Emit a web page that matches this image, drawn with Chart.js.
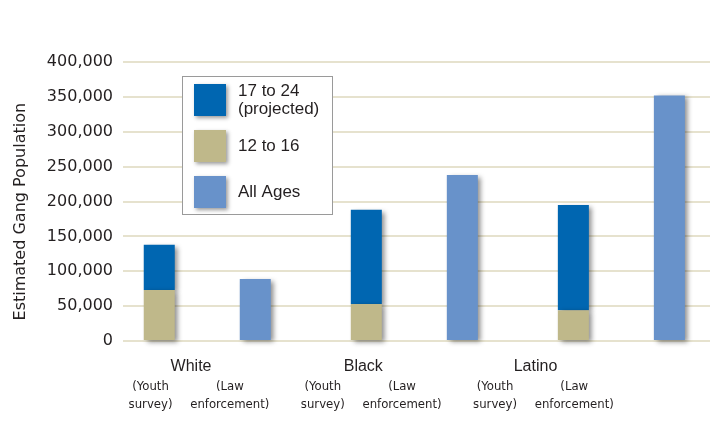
<!DOCTYPE html>
<html>
<head>
<meta charset="utf-8">
<style>
  html, body { margin: 0; padding: 0; background: #fff; }
  canvas { display: block; }
</style>
</head>
<body>
<canvas id="grafico" width="727" height="429"></canvas>
<script src="https://cdn.jsdelivr.net/npm/chart.js@4.4.1/dist/chart.umd.min.js"></script>
<script>
const groups = ["White", "Black", "Latino"]
const sources = [["(Youth", "survey)"], ["(Law", "enforcement)"]]
const ages12to16 = [73000, 53000, 44000]
const ages17to24 = [65000, 135000, 151000]
const allAges = [89000, 238000, 352000]
const yTicks = [0, 50000, 100000, 150000, 200000, 250000, 300000, 350000, 400000]

const textColor = "#231F20"
const graph = document.getElementById("grafico")

const points = (values) => values.map((v, i) => ({ x: i, y: v }))
const groupTicks = (scale) => { scale.ticks = groups.map((g, i) => ({ value: i })) }

// the sub labels in the original sit a bit off the bars, so they get their own axis
const sourceTicks = (scale) => {
  scale.ticks = []
  groups.forEach((g, i) => {
    scale.ticks.push({ value: i - 0.235 })
    scale.ticks.push({ value: i + 0.225 })
  })
}

const shadow = {
  id: "shadow",
  beforeDatasetsDraw(chart) {
    const ctx = chart.ctx
    ctx.save()
    ctx.shadowColor = "rgba(0,0,0,0.45)"
    ctx.shadowBlur = 5
    ctx.shadowOffsetX = 3
    ctx.shadowOffsetY = 2
  },
  afterDatasetsDraw(chart) {
    chart.ctx.restore()
  }
}

const legendBox = {
  id: "legendBox",
  afterDraw(chart) {
    const { ctx, chartArea } = chart
    const x0 = chartArea.left + 59
    const y0 = chartArea.top + 14
    ctx.save()
    ctx.fillStyle = "#fff"
    ctx.fillRect(x0, y0, 151, 139)
    ctx.strokeStyle = "#9A9A9A"
    ctx.lineWidth = 1
    ctx.strokeRect(x0 + 0.5, y0 + 0.5, 150, 138)

    const order = [1, 0, 2]
    order.forEach((dsIndex, row) => {
      const ds = chart.data.datasets[dsIndex]
      const top = y0 + 8 + row * 46
      ctx.save()
      ctx.shadowColor = "rgba(0,0,0,0.4)"
      ctx.shadowBlur = 4
      ctx.shadowOffsetX = 2
      ctx.shadowOffsetY = 2
      ctx.fillStyle = ds.backgroundColor
      ctx.fillRect(x0 + 12, top, 32, 32)
      ctx.restore()

      const lines = ds.label.split("\n")
      ctx.fillStyle = textColor
      ctx.font = "17px 'Liberation Sans', Arial, sans-serif"
      ctx.textBaseline = "middle"
      ctx.textAlign = "left"
      lines.forEach((line, k) => {
        const y = top + 16 + (k - (lines.length - 1) / 2) * 18
        ctx.fillText(line, x0 + 56, y)
      })
    })
    ctx.restore()
  }
}

const barStyle = {
  borderWidth: 0,
  categoryPercentage: 0.9275,
  barPercentage: 0.323,
  clip: 8,
  xAxisID: "x"
}

new Chart(graph, {
  type: "bar",
  data: {
    datasets: [
      { ...barStyle, label: "12 to 16", data: points(ages12to16), backgroundColor: "#BFB88A", stack: "youth" },
      { ...barStyle, label: "17 to 24\n(projected)", data: points(ages17to24), backgroundColor: "#0066B1", stack: "youth" },
      { ...barStyle, label: "All Ages", data: points(allAges), backgroundColor: "#6892CA", stack: "law" }
    ]
  },
  options: {
    responsive: false,
    animation: false,
    devicePixelRatio: 1,
    layout: { padding: { top: 62, right: 17, bottom: 0, left: 0 } },
    plugins: {
      legend: { display: false },
      tooltip: { enabled: false }
    },
    scales: {
      x: {
        type: "linear",
        display: false,
        offset: false,
        bounds: "data",
        min: -0.407,
        max: 2.428,
        afterBuildTicks: groupTicks
      },
      groupAxis: {
        type: "linear",
        position: "bottom",
        offset: false,
        bounds: "data",
        min: -0.395,
        max: 3.013,
        grid: { display: false, drawTicks: false },
        border: { display: false },
        afterBuildTicks: groupTicks,
        afterFit: (s) => { s.height = 37 },
        ticks: {
          padding: 16,
          autoSkip: false,
          maxRotation: 0,
          color: textColor,
          font: { family: "'Liberation Sans', Arial, sans-serif", size: 16 },
          callback: (v, i) => groups[i]
        }
      },
      sourceAxis: {
        type: "linear",
        position: "bottom",
        offset: false,
        bounds: "data",
        min: -0.395,
        max: 3.013,
        grid: { display: false, drawTicks: false },
        border: { display: false },
        afterBuildTicks: sourceTicks,
        afterFit: (s) => { s.height = 51 },
        ticks: {
          padding: 0,
          autoSkip: false,
          maxRotation: 0,
          color: textColor,
          font: { family: "'DejaVu Sans Condensed', sans-serif", size: 13, lineHeight: 1.35 },
          callback: (v, i) => sources[i % 2]
        }
      },
      y: {
        min: 0,
        max: 400000,
        afterBuildTicks: (s) => { s.ticks = yTicks.map((v) => ({ value: v })) },
        afterFit: (s) => { s.width = 123 },
        grid: { color: "#E6E2CE", lineWidth: 2, drawTicks: false },
        border: { display: false },
        ticks: {
          padding: 10,
          color: textColor,
          font: { family: "'DejaVu Sans', sans-serif", size: 16 },
          callback: (v) => Intl.NumberFormat("en-US").format(v)
        },
        title: {
          display: true,
          // trailing spaces push the centred title down a little, like the original
          text: "Estimated Gang Population    ",
          color: textColor,
          padding: { top: 11, bottom: 0 },
          font: { family: "'DejaVu Sans', sans-serif", size: 16 }
        }
      }
    }
  },
  plugins: [shadow, legendBox]
})
</script>
</body>
</html>
